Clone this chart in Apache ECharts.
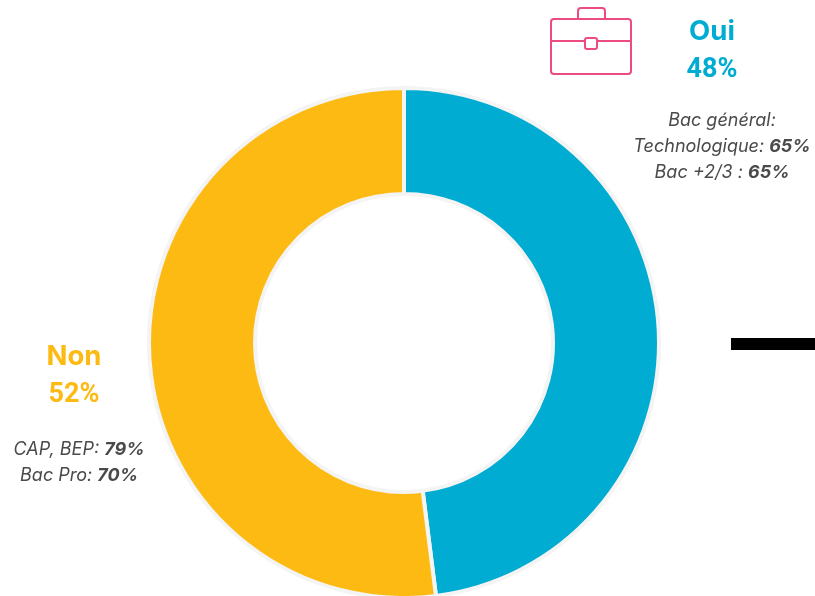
<!DOCTYPE html>
<html lang="fr">
<head>
<meta charset="utf-8">
<title>Oui / Non</title>
<script src="https://cdn.jsdelivr.net/npm/echarts@6/dist/echarts.min.js"></script>
<style>html,body{margin:0;padding:0;background:#fff}#chart{width:815px;height:596px}</style>
</head>
<body>
<div id="chart"></div>
<script>
const categories = ['Oui', 'Non'];
const values = [48, 52];
const colors = ['#00acd2', '#fdba12'];
const detailsOui = [['Bac général:', ''], ['Technologique: ', '65%'], ['Bac +2/3 : ', '65%']];
const detailsNon = [['CAP, BEP: ', '79%'], ['Bac Pro: ', '70%']];

const FONT = 'Inter, "Noto Sans", sans-serif';
const PINK = '#ec4a82';

// Headline above the breakdown: category name, then its share.
function headline(i, x, y) {
  return [
    { type: 'text', x, y, style: { text: categories[i], font: '700 27.5px ' + FONT, fill: colors[i], align: 'center', verticalAlign: 'middle' } },
    { type: 'text', x, y: y + 38.5, style: { text: values[i] + '%', font: '700 27px Roboto, sans-serif', fill: colors[i], align: 'center', verticalAlign: 'middle' } }
  ];
}

// Italic breakdown lines, with the percentage in bold.
function details(rows, x, y) {
  const text = rows.map(r => r[0] + (r[1] ? '{b|' + r[1] + '}' : '')).join('\n');
  return {
    type: 'text', x, y,
    style: {
      text, align: 'center', verticalAlign: 'top',
      font: 'italic 400 18px ' + FONT, fill: '#4a4a4a', lineHeight: 26,
      rich: { b: { font: 'italic 700 18px ' + FONT, fill: '#4a4a4a', lineHeight: 26 } }
    }
  };
}

// Briefcase pictogram beside the "Oui" headline; the body hides the handle's lower part.
const stroke = { stroke: PINK, lineWidth: 2, fill: '#fff' };
const briefcase = [
  { type: 'rect', shape: { x: 578, y: 8, width: 27, height: 20, r: 3 }, style: stroke },
  { type: 'rect', shape: { x: 551, y: 19, width: 80, height: 55, r: 3 }, style: stroke },
  { type: 'line', shape: { x1: 551, y1: 41, x2: 631, y2: 41 }, style: stroke },
  { type: 'rect', shape: { x: 585, y: 38, width: 12, height: 11, r: 2 }, style: stroke }
];

const chart = echarts.init(document.getElementById('chart'), null, { renderer: 'canvas' });
chart.setOption({
  animation: false,
  series: [{
    type: 'pie',
    center: [404, 343],
    radius: [149, 255],
    startAngle: 90,
    clockwise: true,
    silent: true,
    label: { show: false },
    labelLine: { show: false },
    itemStyle: { borderColor: '#f4f4f4', borderWidth: 4 },
    data: categories.map((name, i) => ({ name, value: values[i], itemStyle: { color: colors[i] } }))
  }],
  graphic: [
    ...briefcase,
    ...headline(0, 712, 32),
    details(detailsOui, 722, 107.5),
    ...headline(1, 74, 357),
    details(detailsNon, 79, 437),
    { type: 'rect', shape: { x: 731, y: 338, width: 84, height: 12 }, style: { fill: '#000' } }
  ]
});
</script>
</body>
</html>
